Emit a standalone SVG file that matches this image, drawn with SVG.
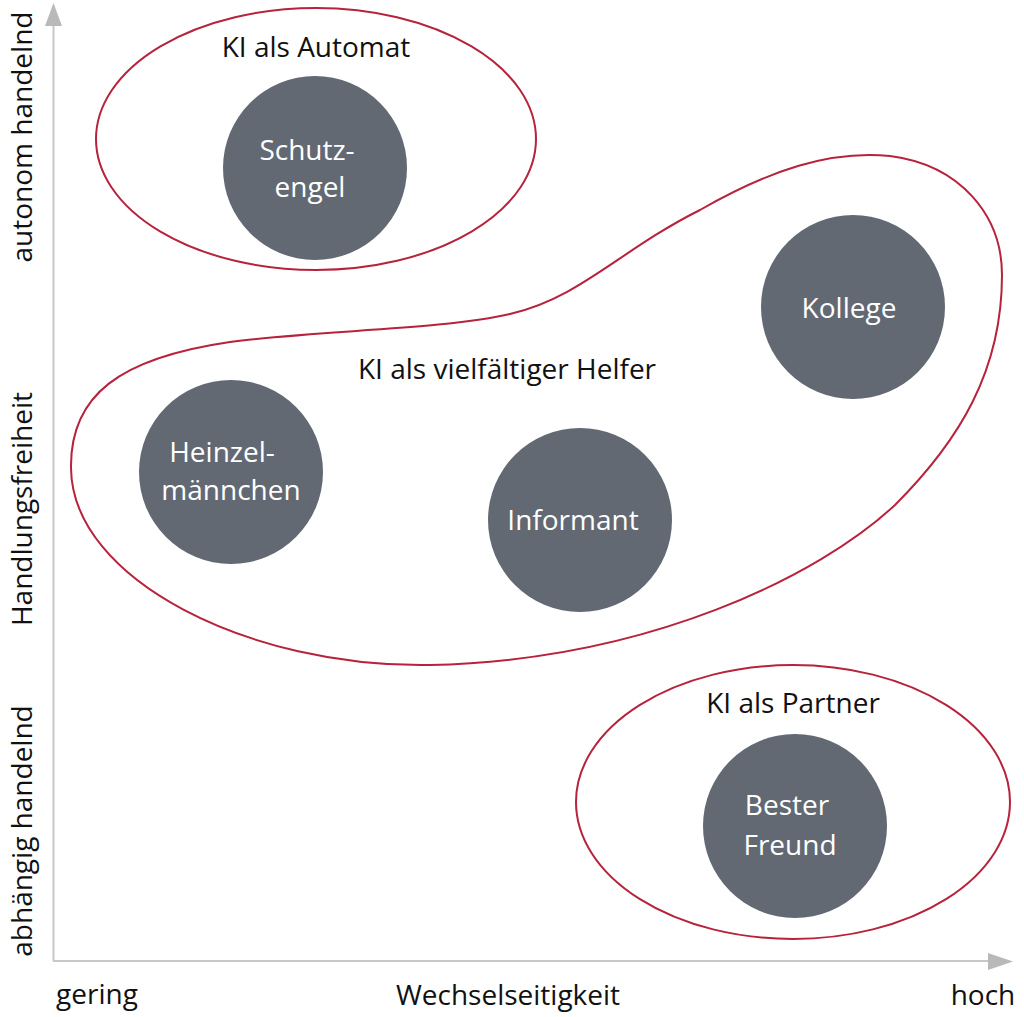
<svg xmlns="http://www.w3.org/2000/svg" width="1024" height="1017" viewBox="0 0 1024 1017">
<style>
.t{font-family:"Open Sans","Noto Sans",sans-serif;font-size:28px;fill:#111;text-anchor:middle}
.w{fill:#fff}
.c{fill:#626973}
.g{fill:none;stroke:#b7223c;stroke-width:2}
.ax{stroke:#c8c8c8;stroke-width:2;fill:none}
.ah{fill:#b9b9b9}
</style>
<rect width="1024" height="1017" fill="#fff"/>
<g id="axes">
<line class="ax" x1="53.5" y1="24" x2="53.5" y2="961"/>
<line class="ax" x1="53" y1="961" x2="990" y2="961"/>
<polygon class="ah" points="53.5,3 45,26 62,26"/>
<polygon class="ah" points="1013,961.5 988,953 988,970"/>
<text class="t" x="97" y="1004">gering</text>
<text class="t" x="508" y="1005">Wechselseitigkeit</text>
<text class="t" x="983" y="1005">hoch</text>
<text class="t" transform="translate(32,137) rotate(-90)">autonom handelnd</text>
<text class="t" transform="translate(32,509) rotate(-90)">Handlungsfreiheit</text>
<text class="t" transform="translate(32,831) rotate(-90)">abhängig handelnd</text>
</g>
<g id="group-automat">
<ellipse class="g" cx="316" cy="139" rx="220" ry="131"/>
<text class="t" x="316" y="57">KI als Automat</text>
</g>
<g id="group-helfer">
<path class="g" d="M71,468 C70,395 120,358 230,342 C320,330 440,330 510,314 C580,298 620,250 700,210 C770,170 830,150 890,156 C960,165 1002,215 1002,275 C1002,370 960,440 895,505 C820,575 650,660 430,665 C250,668 72,580 71,468 Z"/>
<text class="t" x="507" y="379">KI als vielfältiger Helfer</text>
</g>
<g id="group-partner">
<ellipse class="g" cx="793" cy="802" rx="217" ry="137"/>
<text class="t" x="793" y="713">KI als Partner</text>
</g>
<g id="node-schutzengel">
<circle class="c" cx="315" cy="168" r="92"/>
<text class="t w" x="307" y="160">Schutz-</text>
<text class="t w" x="310" y="197">engel</text>
</g>
<g id="node-kollege">
<circle class="c" cx="853" cy="307" r="92"/>
<text class="t w" x="849" y="318">Kollege</text>
</g>
<g id="node-heinzelmaennchen">
<circle class="c" cx="231" cy="472" r="92"/>
<text class="t w" x="222" y="462">Heinzel-</text>
<text class="t w" x="231" y="500">männchen</text>
</g>
<g id="node-informant">
<circle class="c" cx="580" cy="520" r="92"/>
<text class="t w" x="573" y="530">Informant</text>
</g>
<g id="node-bester-freund">
<circle class="c" cx="795" cy="826" r="92"/>
<text class="t w" x="787" y="815">Bester</text>
<text class="t w" x="790" y="855">Freund</text>
</g>
</svg>
